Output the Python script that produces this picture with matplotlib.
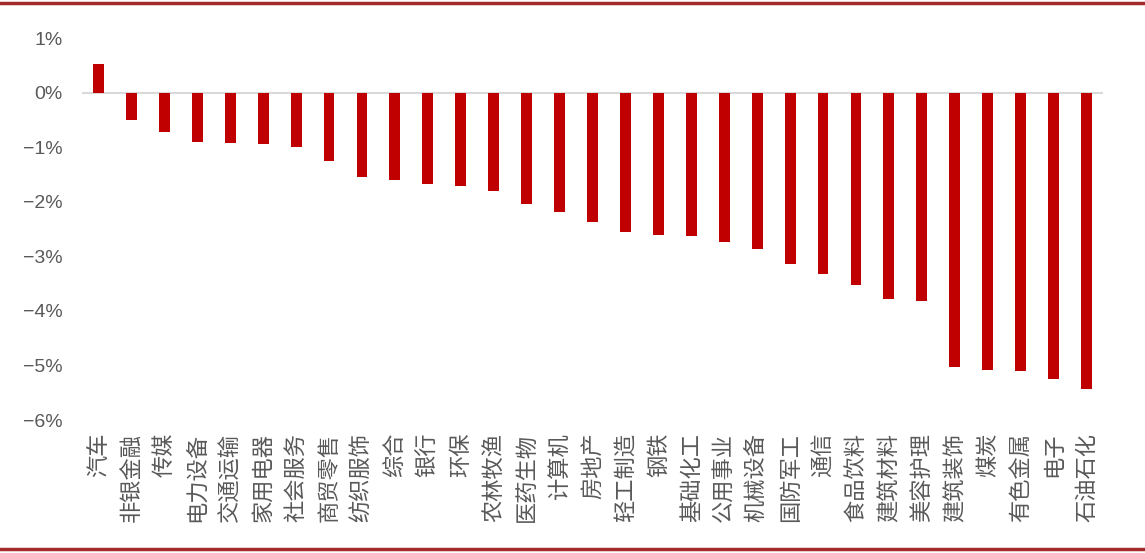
import matplotlib
matplotlib.use('Agg')
import matplotlib.pyplot as plt
from matplotlib.lines import Line2D
from matplotlib.ticker import FuncFormatter

# 行业涨跌幅 (%)
industries = ['汽车', '非银金融', '传媒', '电力设备', '交通运输', '家用电器', '社会服务',
              '商贸零售', '纺织服饰', '综合', '银行', '环保', '农林牧渔', '医药生物',
              '计算机', '房地产', '轻工制造', '钢铁', '基础化工', '公用事业', '机械设备',
              '国防军工', '通信', '食品饮料', '建筑材料', '美容护理', '建筑装饰', '煤炭',
              '有色金属', '电子', '石油石化']
changes = [0.53, -0.50, -0.73, -0.91, -0.93, -0.94, -1.00,
           -1.25, -1.55, -1.60, -1.68, -1.72, -1.80, -2.04,
           -2.18, -2.37, -2.56, -2.61, -2.62, -2.73, -2.86,
           -3.14, -3.33, -3.52, -3.78, -3.82, -5.03, -5.08,
           -5.10, -5.25, -5.43]
yticks = [1, 0, -1, -2, -3, -4, -5, -6]

fig = plt.figure(figsize=(11.45, 5.53), dpi=100)
ax = fig.add_axes([82 / 1145, 1 - 420 / 553, (1103 - 82) / 1145, (420 - 38) / 553])

x = range(len(industries))
ax.bar(x, changes, width=0.33, color='#C00000', zorder=3)
ax.axhline(0, color='#D9D9D9', lw=1.5, zorder=2)

ax.set_xlim(-0.5, len(industries) - 0.5)
ax.set_ylim(-6, 1)
ax.set_yticks(yticks)
ax.yaxis.set_major_formatter(FuncFormatter(lambda v, p: f'{v:.0f}%'.replace('-', '\u2212')))
for s in ax.spines.values():
    s.set_visible(False)

ax.set_xticks(list(x))
ax.set_xticklabels(industries, rotation=90, fontsize=16, family=['Noto Sans CJK SC', 'DejaVu Sans'],
                   color='#595959')
ax.tick_params(axis='x', length=0, pad=9)
ax.tick_params(axis='y', length=0, pad=14, labelsize=14, labelcolor='#595959')
for lab in ax.get_yticklabels():
    lab.set_family('Liberation Sans')

# 上下红色分隔线
fig.add_artist(Line2D([0, 1], [1 - 3 / 553, 1 - 3 / 553], color='#A52A2A', lw=2.5))
fig.add_artist(Line2D([0, 1], [1 - 549 / 553, 1 - 549 / 553], color='#A52A2A', lw=2.5))

fig.savefig('out.png', dpi=100)
